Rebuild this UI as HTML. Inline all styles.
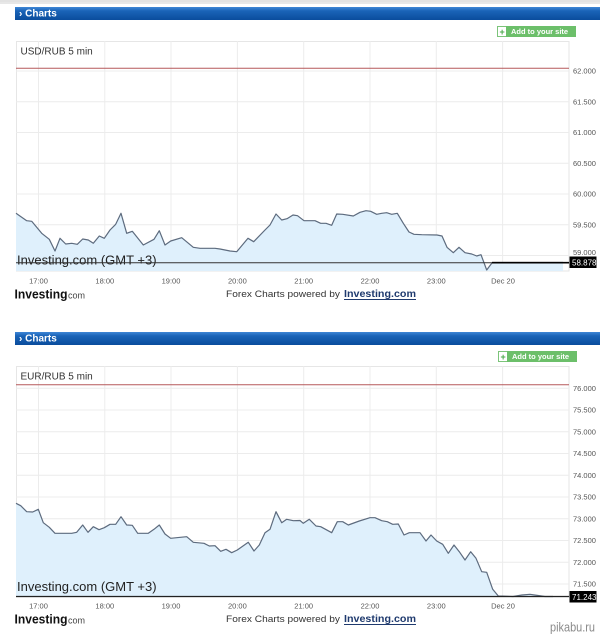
<!DOCTYPE html>
<html><head><meta charset="utf-8">
<style>
html,body{margin:0;padding:0;background:#fff;width:600px;height:637px;overflow:hidden}
svg{display:block}
text{font-family:"Liberation Sans",sans-serif}
</style></head>
<body>
<svg width="600" height="637" viewBox="0 0 600 637" xmlns="http://www.w3.org/2000/svg">
<defs>
<linearGradient id="hb" x1="0" y1="0" x2="0" y2="1">
<stop offset="0" stop-color="#3f86d6"/>
<stop offset="0.3" stop-color="#1a64b8"/>
<stop offset="1" stop-color="#0a4c9c"/>
</linearGradient>
</defs>
<rect x="0" y="0" width="600" height="2" fill="#e2e2e2"/>
<rect x="0" y="2.5" width="600" height="1" fill="#cfcfcf"/>

<!-- ===== CHART 1 ===== -->
<g>
<rect x="15" y="7" width="585" height="13" fill="url(#hb)"/>
<text x="19" y="16.5" font-size="10" font-weight="bold" fill="#fff">› Charts</text>
<!-- add button -->
<rect x="497.5" y="26.5" width="9" height="10" fill="#fff" stroke="#7cc47a" stroke-width="1"/>
<text x="499.5" y="35" font-size="9" font-weight="bold" fill="#4aa84a">+</text>
<rect x="506" y="26" width="70" height="11" fill="#6cbf6a"/>
<text x="511" y="34" font-size="7.5" font-weight="bold" fill="#fff">Add to your site</text>

<!-- plot box -->
<rect x="16.5" y="41.5" width="552.5" height="229.5" fill="#fff" stroke="#e6e6e6"/>
<g stroke="#ececec" stroke-width="1">
<line x1="38.5" y1="41" x2="38.5" y2="271"/><line x1="104.8" y1="41" x2="104.8" y2="271"/>
<line x1="171" y1="41" x2="171" y2="271"/><line x1="237.4" y1="41" x2="237.4" y2="271"/>
<line x1="303.7" y1="41" x2="303.7" y2="271"/><line x1="370" y1="41" x2="370" y2="271"/>
<line x1="436.3" y1="41" x2="436.3" y2="271"/><line x1="502.6" y1="41" x2="502.6" y2="271"/>
<line x1="16" y1="71" x2="569" y2="71"/><line x1="16" y1="101.75" x2="569" y2="101.75"/>
<line x1="16" y1="132.5" x2="569" y2="132.5"/><line x1="16" y1="163.25" x2="569" y2="163.25"/>
<line x1="16" y1="194" x2="569" y2="194"/><line x1="16" y1="224.75" x2="569" y2="224.75"/>
<line x1="16" y1="255.5" x2="569" y2="255.5"/>
</g>
<line x1="16" y1="68.3" x2="569" y2="68.3" stroke="#b5585a" stroke-width="1"/>
<text x="20.5" y="54.5" font-size="10" fill="#333">USD/RUB 5 min</text>
<polygon fill="#dff0fc" points="16,213.3 26.7,220.7 31.7,221.3 41.7,233.3 49.3,239.3 55,251 60,238.3 65.7,244 71.7,243.3 77.3,244.3 82.7,239 88.3,240 93.3,243.3 99.3,236 104.3,238.3 110,230 115.7,224.3 121,213.3 126.7,233.3 132.3,231.3 143.3,245 154,239.3 159.3,230.7 165,245 170.7,241 181.7,237.7 193.3,247.3 200,248.3 215,248.3 220,249 230,251 236.7,251.7 248,238.3 253.7,241.7 265,230 270,225 276,214 281.7,220 287,218.7 293,215 297.5,215.7 304,220.7 315,220.7 320.7,223.3 326,223.3 331.7,225.3 336.7,214 342.7,214.3 353.3,216 360,212.3 366,210.7 370.7,211.3 376.7,214.3 381.7,213.3 386.7,212.7 391.7,214.3 397.3,213.3 403.3,223.3 409,232 414,234.3 421.7,234.7 437,235 442,236 447,247.3 453.3,252.7 459,247.3 465,252.7 471.7,254 476.7,256 481,254.7 486.7,270 492.3,262.5 563,262.5 563,271 16,271"/>
<polyline fill="none" stroke="#5d6b7e" stroke-width="1.2" stroke-linejoin="round" points="16,213.3 26.7,220.7 31.7,221.3 41.7,233.3 49.3,239.3 55,251 60,238.3 65.7,244 71.7,243.3 77.3,244.3 82.7,239 88.3,240 93.3,243.3 99.3,236 104.3,238.3 110,230 115.7,224.3 121,213.3 126.7,233.3 132.3,231.3 143.3,245 154,239.3 159.3,230.7 165,245 170.7,241 181.7,237.7 193.3,247.3 200,248.3 215,248.3 220,249 230,251 236.7,251.7 248,238.3 253.7,241.7 265,230 270,225 276,214 281.7,220 287,218.7 293,215 297.5,215.7 304,220.7 315,220.7 320.7,223.3 326,223.3 331.7,225.3 336.7,214 342.7,214.3 353.3,216 360,212.3 366,210.7 370.7,211.3 376.7,214.3 381.7,213.3 386.7,212.7 391.7,214.3 397.3,213.3 403.3,223.3 409,232 414,234.3 421.7,234.7 437,235 442,236 447,247.3 453.3,252.7 459,247.3 465,252.7 471.7,254 476.7,256 481,254.7 486.7,270 492.3,262.5 563,262.5"/>
<text x="17" y="264.5" font-size="13" fill="#222">Investing.com (GMT +3)</text>
<line x1="16" y1="262.7" x2="569" y2="262.7" stroke="#333" stroke-width="1"/>
<line x1="492" y1="262.7" x2="569" y2="262.7" stroke="#000" stroke-width="1.6"/>
<rect x="569.5" y="256.5" width="27" height="11.5" fill="#000"/>
<text x="572" y="265.5" font-size="8" fill="#fff">58.878</text>
<g font-size="7.5" fill="#555">
<text x="573" y="73.5">62.000</text><text x="573" y="104.3">61.500</text>
<text x="573" y="135">61.000</text><text x="573" y="165.8">60.500</text>
<text x="573" y="196.5">60.000</text><text x="573" y="227.3">59.500</text>
<text x="573" y="255">59.000</text>
</g>
<g font-size="7.5" fill="#555" text-anchor="middle">
<text x="38.5" y="283.5">17:00</text><text x="104.8" y="283.5">18:00</text>
<text x="171" y="283.5">19:00</text><text x="237.4" y="283.5">20:00</text>
<text x="303.7" y="283.5">21:00</text><text x="370" y="283.5">22:00</text>
<text x="436.3" y="283.5">23:00</text><text x="503" y="283.5">Dec 20</text>
</g>
<text x="14.5" y="298.5" font-size="12.5" font-weight="bold" fill="#111" textLength="53" lengthAdjust="spacingAndGlyphs">Investing</text>
<text x="68" y="298.5" font-size="9" fill="#444">com</text>
<text x="226" y="297" font-family="Liberation Mono,monospace" font-size="9.5" fill="#333" textLength="114" lengthAdjust="spacingAndGlyphs">Forex Charts powered by</text>
<text x="344" y="297" font-family="Liberation Serif,serif" font-size="10.5" font-weight="bold" fill="#1f3a6e" textLength="72" lengthAdjust="spacingAndGlyphs">Investing.com</text>
<line x1="344" y1="299.5" x2="416" y2="299.5" stroke="#1f3a6e" stroke-width="1"/>
</g>

<!-- ===== CHART 2 ===== -->
<g>
<rect x="15" y="332" width="585" height="13" fill="url(#hb)"/>
<text x="19" y="341.5" font-size="10" font-weight="bold" fill="#fff">› Charts</text>
<rect x="498.5" y="351.5" width="9" height="10" fill="#fff" stroke="#7cc47a" stroke-width="1"/>
<text x="500.5" y="360" font-size="9" font-weight="bold" fill="#4aa84a">+</text>
<rect x="507" y="351" width="70" height="11" fill="#6cbf6a"/>
<text x="512" y="359" font-size="7.5" font-weight="bold" fill="#fff">Add to your site</text>

<rect x="16.5" y="366.5" width="552.5" height="230.5" fill="#fff" stroke="#e6e6e6"/>
<g stroke="#ececec" stroke-width="1">
<line x1="38.5" y1="366" x2="38.5" y2="597"/><line x1="104.8" y1="366" x2="104.8" y2="597"/>
<line x1="171" y1="366" x2="171" y2="597"/><line x1="237.4" y1="366" x2="237.4" y2="597"/>
<line x1="303.7" y1="366" x2="303.7" y2="597"/><line x1="370" y1="366" x2="370" y2="597"/>
<line x1="436.3" y1="366" x2="436.3" y2="597"/><line x1="502.6" y1="366" x2="502.6" y2="597"/>
<line x1="16" y1="388.3" x2="569" y2="388.3"/><line x1="16" y1="410" x2="569" y2="410"/>
<line x1="16" y1="431.8" x2="569" y2="431.8"/><line x1="16" y1="453.5" x2="569" y2="453.5"/>
<line x1="16" y1="475.3" x2="569" y2="475.3"/><line x1="16" y1="497" x2="569" y2="497"/>
<line x1="16" y1="518.8" x2="569" y2="518.8"/><line x1="16" y1="540.5" x2="569" y2="540.5"/>
<line x1="16" y1="562.3" x2="569" y2="562.3"/><line x1="16" y1="584" x2="569" y2="584"/>
</g>
<line x1="16" y1="384.7" x2="569" y2="384.7" stroke="#b5585a" stroke-width="1"/>
<text x="20.5" y="379.5" font-size="10" fill="#333">EUR/RUB 5 min</text>
<polygon fill="#dff0fc" points="16,503.3 20.7,505.7 26.7,511.7 32.7,512 38.3,509.3 43.3,522.7 49.3,527.3 55,533.3 71.7,533.3 76.7,532.3 82.7,525 88,532.3 93.3,526.7 99,529.7 104.3,527.7 110,524.3 115.7,524.3 121,516.7 126.7,525 132.3,525.3 137.7,533.3 148.3,533.3 154,529.3 159.3,525 165,534 170.7,538.3 176.7,537.7 186.7,536.7 193.3,542.3 204,543.3 209.3,546 215,545.7 220.7,551.3 226,549.3 231.7,552.7 237.3,550 248.3,542.3 254,551 259.3,545 265,532.7 270,529.3 276,511.7 281.7,522.7 286.7,519.3 293.3,520.7 300,520.5 303.3,523.3 309.3,519.3 316,526 320.7,526.7 331.7,532.7 337.3,521.7 342.7,521.7 348.3,525 359.3,521 370,517.7 375,517.7 381.7,520.7 387.3,521.7 392.7,524.3 398.3,524 404,535 409.3,532.7 420,532.7 426,541 431,535 436.7,541 442.7,544.3 448.3,553.3 454,545 459.3,551.7 465,560 470.7,551.7 476,558.3 481.7,571.7 486.7,572.3 492.7,589.3 498.3,596 513,596.5 522,595 530,594.3 538,595.5 545,596.5 553,596.5 553,597 16,597"/>
<polyline fill="none" stroke="#5d6b7e" stroke-width="1.2" stroke-linejoin="round" points="16,503.3 20.7,505.7 26.7,511.7 32.7,512 38.3,509.3 43.3,522.7 49.3,527.3 55,533.3 71.7,533.3 76.7,532.3 82.7,525 88,532.3 93.3,526.7 99,529.7 104.3,527.7 110,524.3 115.7,524.3 121,516.7 126.7,525 132.3,525.3 137.7,533.3 148.3,533.3 154,529.3 159.3,525 165,534 170.7,538.3 176.7,537.7 186.7,536.7 193.3,542.3 204,543.3 209.3,546 215,545.7 220.7,551.3 226,549.3 231.7,552.7 237.3,550 248.3,542.3 254,551 259.3,545 265,532.7 270,529.3 276,511.7 281.7,522.7 286.7,519.3 293.3,520.7 300,520.5 303.3,523.3 309.3,519.3 316,526 320.7,526.7 331.7,532.7 337.3,521.7 342.7,521.7 348.3,525 359.3,521 370,517.7 375,517.7 381.7,520.7 387.3,521.7 392.7,524.3 398.3,524 404,535 409.3,532.7 420,532.7 426,541 431,535 436.7,541 442.7,544.3 448.3,553.3 454,545 459.3,551.7 465,560 470.7,551.7 476,558.3 481.7,571.7 486.7,572.3 492.7,589.3 498.3,596 513,596.5 522,595 530,594.3 538,595.5 545,596.5 553,596.5"/>
<text x="17" y="591" font-size="13" fill="#222">Investing.com (GMT +3)</text>
<line x1="16" y1="596.5" x2="569" y2="596.5" stroke="#222" stroke-width="1.3"/>
<rect x="569.5" y="591" width="27" height="11.5" fill="#000"/>
<text x="572" y="600" font-size="8" fill="#fff">71.243</text>
<g font-size="7.5" fill="#555">
<text x="573" y="390.8">76.000</text><text x="573" y="412.5">75.500</text>
<text x="573" y="434.3">75.000</text><text x="573" y="456">74.500</text>
<text x="573" y="477.8">74.000</text><text x="573" y="499.5">73.500</text>
<text x="573" y="521.3">73.000</text><text x="573" y="543">72.500</text>
<text x="573" y="564.8">72.000</text><text x="573" y="586.5">71.500</text>
</g>
<g font-size="7.5" fill="#555" text-anchor="middle">
<text x="38.5" y="608.5">17:00</text><text x="104.8" y="608.5">18:00</text>
<text x="171" y="608.5">19:00</text><text x="237.4" y="608.5">20:00</text>
<text x="303.7" y="608.5">21:00</text><text x="370" y="608.5">22:00</text>
<text x="436.3" y="608.5">23:00</text><text x="503" y="608.5">Dec 20</text>
</g>
<text x="14.5" y="623.5" font-size="12.5" font-weight="bold" fill="#111" textLength="53" lengthAdjust="spacingAndGlyphs">Investing</text>
<text x="68" y="623.5" font-size="9" fill="#444">com</text>
<text x="226" y="622" font-family="Liberation Mono,monospace" font-size="9.5" fill="#333" textLength="114" lengthAdjust="spacingAndGlyphs">Forex Charts powered by</text>
<text x="344" y="622" font-family="Liberation Serif,serif" font-size="10.5" font-weight="bold" fill="#1f3a6e" textLength="72" lengthAdjust="spacingAndGlyphs">Investing.com</text>
<line x1="344" y1="624.5" x2="416" y2="624.5" stroke="#1f3a6e" stroke-width="1"/>
</g>

<!-- watermark -->
<text x="550" y="631.5" font-size="13" fill="#8a8a8a" stroke="#fff" stroke-width="2.5" paint-order="stroke" textLength="45" lengthAdjust="spacingAndGlyphs">pikabu.ru</text>
</svg>
</body></html>
